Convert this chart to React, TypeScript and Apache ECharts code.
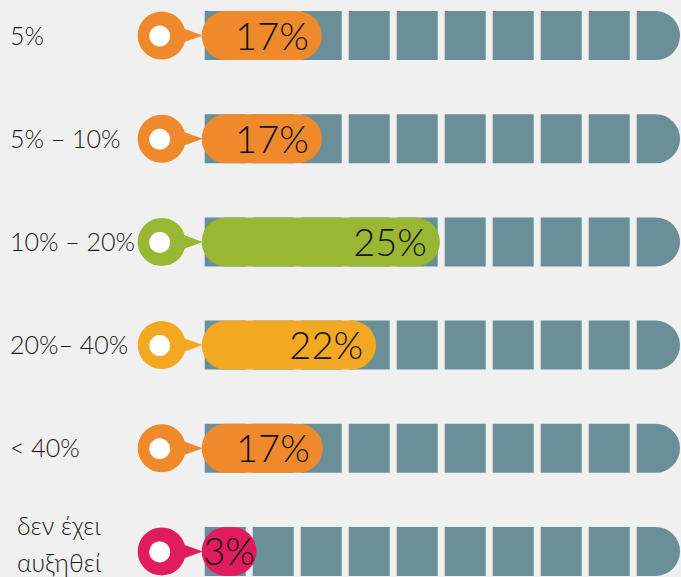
import React, { useEffect, useRef } from "react";
import * as echarts from "echarts";

// Row labels (top to bottom)
const categories = ["5%", "5% – 10%", "10% – 20%", "20%– 40%", "< 40%", "δεν έχει\nαυξηθεί"];
// Percent labels shown in the bars
const percents = [17, 17, 25, 22, 17, 3];
// Filled length of each bar as drawn, measured in background squares (of 10)
const fillSquares = [2.44, 2.44, 4.9, 3.57, 2.46, 1.08];
// Number of background squares per row
const totalSquares = 10;
// Bar / pin colours per row
const rowColors = ["#EE8A2C", "#EE8A2C", "#9AB734", "#F2A822", "#EE8A2C", "#E01B5E"];

const FONT = "Lato, 'Open Sans', sans-serif";
const OFFSET_TOP = 16;

export default function App() {
  const ref = useRef<HTMLDivElement>(null);

  useEffect(() => {
    if (!ref.current) return;
    document.body.style.overflow = "hidden";
    const chart = echarts.init(ref.current, undefined, { renderer: "svg" });
    const H = 49;

    const option: any = {
      animation: false,
      backgroundColor: "#F0F0F0",
      grid: { left: 204.7, right: 0.3, top: 0, bottom: 0, outerBoundsMode: "none" },
      xAxis: { type: "value", min: 0, max: totalSquares, show: false },
      yAxis: {
        type: "category",
        data: categories,
        inverse: true,
        axisLine: { show: false },
        axisTick: { show: false },
        splitLine: { show: false },
        axisLabel: { show: false },
      },
      series: [
        {
          type: "custom",
          name: "squares",
          encode: { y: 0 },
          data: categories.map((_, i) => [i]),
          renderItem: (params: any, api: any) => {
            const yi = api.value(0);
            const children: any[] = [];
            for (let k = 0; k < totalSquares; k++) {
              const p0 = api.coord([k, yi]);
              const p1 = api.coord([k + 1, yi]);
              const last = k === totalSquares - 1;
              const w = p1[0] - p0[0] - (last ? 4.7 : 7);
              children.push({
                type: "rect",
                shape: { x: p0[0], y: p0[1] - H / 2, width: w, height: H, r: last ? [0, H / 2, H / 2, 0] : 0 },
                style: { fill: "#6B8F99" },
              });
            }
            return { type: "group", children };
          },
        },
        {
          type: "custom",
          name: "fill",
          encode: { y: 0, x: 1 },
          data: categories.map((_, i) => [i, fillSquares[i], percents[i]]),
          z: 3,
          renderItem: (params: any, api: any) => {
            const yi = api.value(0);
            const len = api.value(1);
            const pct = api.value(2);
            const s = api.coord([0, yi]);
            const e = api.coord([len, yi]);
            const cy = s[1];
            const x0 = s[0] - 3;
            const x1 = e[0];
            const color = rowColors[yi];
            const w = x1 - x0;
            const narrow = w < 80;
            const label = categories[yi];
            const multi = label.indexOf("\n") >= 0;
            return {
              type: "group",
              children: [
                {
                  type: "text",
                  style: {
                    text: label,
                    x: s[0] - (multi ? 187.7 : 194.7),
                    y: multi ? cy - 8 : cy - 1,
                    align: "left",
                    verticalAlign: "middle",
                    fontFamily: FONT,
                    fontWeight: 300,
                    fontSize: 25,
                    lineHeight: 37,
                    fill: "#1a1a1a",
                  },
                },
                {
                  type: "rect",
                  shape: { x: x0, y: cy - H / 2, width: w, height: H, r: H / 2 },
                  style: { fill: color },
                },
                {
                  type: "polygon",
                  shape: { points: [[x0 - 32, cy - 12], [x0 + 1, cy], [x0 - 32, cy + 12]] },
                  style: { fill: color },
                },
                {
                  type: "circle",
                  shape: { cx: x0 - 40, cy: cy, r: 24 },
                  style: { fill: color },
                },
                {
                  type: "circle",
                  shape: { cx: x0 - 42, cy: cy + 0.5, r: 10.5 },
                  style: { fill: "#FFFFFF" },
                },
                {
                  type: "text",
                  style: {
                    text: pct + "%",
                    x: narrow ? (x0 + x1) / 2 : x1 - 13,
                    y: cy - 1,
                    align: narrow ? "center" : "right",
                    verticalAlign: "middle",
                    fontFamily: FONT,
                    fontWeight: 300,
                    fontSize: 38,
                    fill: "#111111",
                  },
                },
              ],
            };
          },
        },
      ],
    };

    chart.setOption(option);
    return () => chart.dispose();
  }, []);

  return (
    <div
      ref={ref}
      style={{
        position: "fixed",
        left: 0,
        top: -OFFSET_TOP,
        width: 685,
        height: 619,
        background: "#F0F0F0",
      }}
    />
  );
}
